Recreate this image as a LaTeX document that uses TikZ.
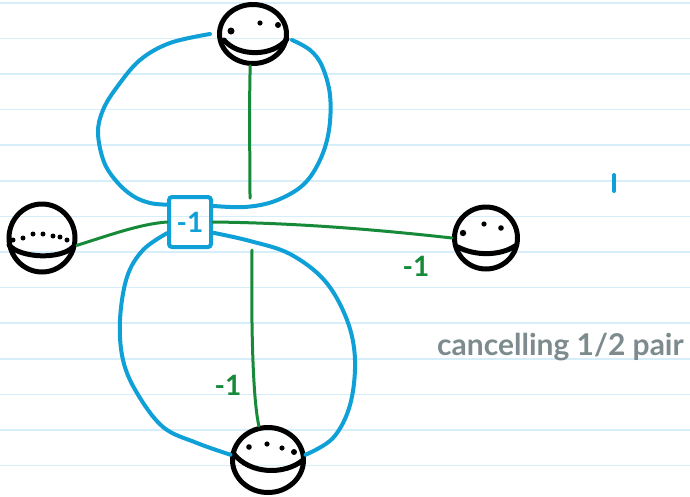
\documentclass[tikz,border=0pt]{standalone}
\usepackage{fontspec}
\setmainfont{Lato}
\usetikzlibrary{shapes.geometric}
\definecolor{rulecol}{RGB}{214,237,250}
\definecolor{loopblue}{RGB}{14,160,214}
\definecolor{edgegreen}{RGB}{22,138,56}
\definecolor{notegray}{RGB}{125,139,142}
\begin{document}
\begin{tikzpicture}[x=1pt,y=-1pt,
  sphere/.style={ellipse, draw=black, line width=5pt, inner sep=0pt},
  loopline/.style={draw=loopblue, line width=4pt, line cap=round, line join=round},
  edgeline/.style={draw=edgegreen, line width=3pt, line cap=round},
  ink/.style={draw=black, line width=5pt, line cap=round},
  dotfill/.style={fill=black, draw=none},
  lbl/.style={font=\bfseries\fontsize{28}{28}\selectfont, inner sep=0pt},
  notestyle/.style={font=\bfseries\fontsize{30}{30}\selectfont, text=notegray, inner sep=0pt},
  rulestyle/.style={draw=rulecol, line width=1.6pt}
]
\useasboundingbox (0,0) rectangle (690,496);
\fill[white] (0,0) rectangle (690,496);
\foreach \k in {0,...,13} \draw[rulestyle] (0,{2.7+35.6*\k}) -- (690,{2.7+35.6*\k});

% spheres
\node[sphere, minimum width=67pt, minimum height=59pt] (top) at (253,34) {};
\node[sphere, minimum width=66pt, minimum height=68pt] (left) at (42,238) {};
\node[sphere, minimum width=63pt, minimum height=62pt] (right) at (486,238) {};
\node[sphere, minimum width=71pt, minimum height=65pt] (bottom) at (268,460) {};

% vertex box
\node[draw=loopblue, line width=4pt, rounded corners=3pt, minimum width=42pt,
      minimum height=50pt, text=loopblue, lbl] (box) at (190,222) {-1};

% sphere details
\draw[ink] (224,40) .. controls (238,57) and (273,57) .. (287,39);
\fill[dotfill] (231,31) circle (3.5pt) (260,23) circle (2.6pt) (278,25) circle (3pt);

\draw[ink] (9,245) .. controls (20,258) and (60,260) .. (73,247);
\foreach \p in {(13,240),(23,238),(33,234),(43,234),(53,236),(60,237),(67,240)}
  \fill[dotfill] \p circle (2.5pt);

\draw[ink] (458,247) .. controls (475,256) and (500,256) .. (515,246);
\fill[dotfill] (463,233) circle (3.2pt) (484,224) circle (2.6pt) (501,228) circle (2.8pt);

\draw[ink] (233,453) .. controls (250,475) and (285,475) .. (303,460);
\fill[dotfill] (249,447) circle (2.8pt) (267,444) circle (2.6pt) (282,448) circle (2.6pt) (294,452) circle (3pt);

% green edges
\coordinate (vtop) at (250,198);
\coordinate (vbot) at (252,250);
\draw[edgeline] (left.-12) .. controls (110,235) and (140,224) .. (box.west);
\draw[edgeline] (box.east) .. controls (300,223) and (380,230) .. (right.west);
\draw[edgeline] (top.-95) .. controls (249,110) and (250,160) .. (vtop);
\draw[edgeline] (vbot) .. controls (251,330) and (253,400) .. (bottom.105);

% blue loops
\draw[loopline] plot[smooth, tension=0.6] coordinates {(box.143) (150,203) (133,196) (117,182) (104,162) (98,133) (103,110) (117,87) (140,60) (170,43) ([xshift=-7pt]top.west)};
\draw[loopline] plot[smooth, tension=0.6] coordinates {([xshift=3pt,yshift=-6pt]top.east) (310,50) (322,66) (330,95) (329,130) (320,160) (303,185) (275,201) (245,207) (box.35)};
\draw[loopline] plot[smooth, tension=0.6] coordinates {(box.206) (143,250) (127,277) (120,320) (123,360) (137,393) (163,427) (197,443) (bottom.172)};
\draw[loopline] plot[smooth, tension=0.6] coordinates {(box.-25) (250,241) (290,254) (325,281) (347,320) (355,360) (350,405) (333,438) (bottom.8)};

% labels
\node[lbl, text=edgegreen] (lblright) at (416,266) {-1};
\node[lbl, text=edgegreen] (lblbottom) at (228,385) {-1};
\draw[loopline] (614,175) -- (614,191);
\node[notestyle, anchor=base west] (note) at (437,355) {cancelling 1/2 pair};
\end{tikzpicture}
\end{document}
